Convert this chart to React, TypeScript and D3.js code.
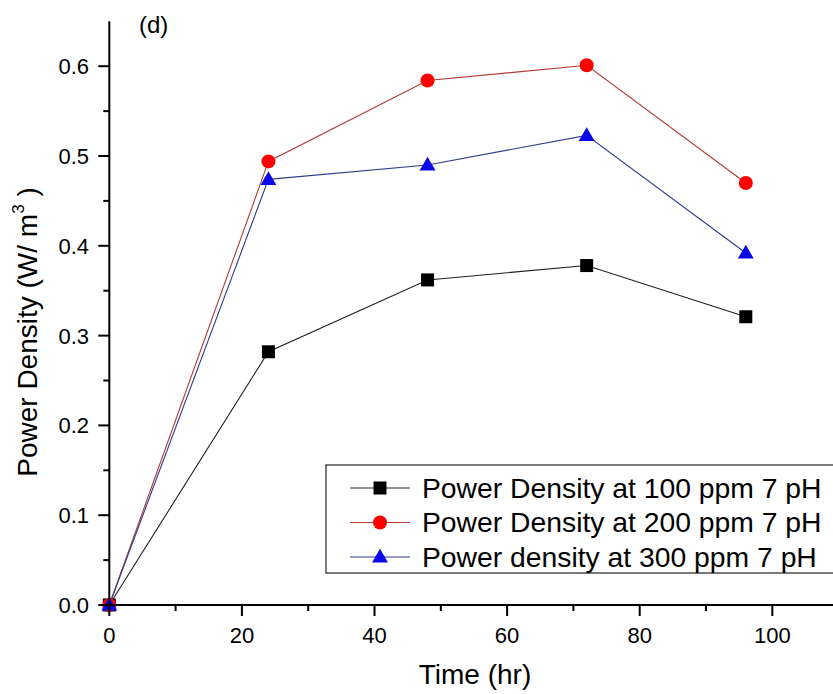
import React from "react";
import * as d3 from "d3";

const times = [0, 24, 48, 72, 96];
const series100 = [0, 0.282, 0.362, 0.378, 0.321];
const series200 = [0, 0.494, 0.584, 0.601, 0.47];
const series300 = [0, 0.474, 0.49, 0.523, 0.392];
const seriesNames = [
  "Power Density at 100 ppm 7 pH",
  "Power Density at 200 ppm 7 pH",
  "Power density at 300 ppm 7 pH",
];
const xMajorTicks = [0, 20, 40, 60, 80, 100];
const xMinorTicks = [10, 30, 50, 70, 90];
const yMajorTicks = [0, 0.1, 0.2, 0.3, 0.4, 0.5, 0.6];
const yMinorTicks = [0.05, 0.15, 0.25, 0.35, 0.45, 0.55];

const W = 833;
const H = 694;
const FONT = "'Liberation Sans', Arial, sans-serif";

export default function App() {
  const x = d3.scaleLinear().domain([0, 109]).range([109.3, 832]);
  const y = d3.scaleLinear().domain([0, 0.65]).range([605, 21.3]);

  const styles = [
    { line: "#202020", fill: "#000000", shape: "square" },
    { line: "#b23a36", fill: "#ff0000", shape: "circle" },
    { line: "#2e3a8c", fill: "#0a0ae6", shape: "triangle" },
  ];
  const allSeries = [series100, series200, series300];

  const line = d3
    .line<number>()
    .x((_, i) => x(times[i]))
    .y((d) => y(d));

  const marker = (shape: string, cx: number, cy: number, fill: string, key: string) => {
    if (shape === "square") {
      return <rect key={key} x={cx - 6.5} y={cy - 6.5} width={13} height={13} fill={fill} />;
    }
    if (shape === "circle") {
      return <circle key={key} cx={cx} cy={cy} r={7} fill={fill} />;
    }
    const sym = d3.symbol().type(d3.symbolTriangle).size(110)();
    return <path key={key} d={sym || ""} transform={`translate(${cx},${cy + 1})`} fill={fill} />;
  };

  const x0 = x(0);
  const y0 = y(0);

  return (
    <svg
      width={W}
      height={H}
      style={{ position: "absolute", left: 0, top: 0, background: "#fff" }}
      fontFamily={FONT}
    >
      <rect x={0} y={0} width={W} height={H} fill="#fff" />
      {/* series */}
      {allSeries.map((s, si) => (
        <path key={"l" + si} d={line(s) || ""} fill="none" stroke={styles[si].line} strokeWidth={1.1} />
      ))}
      {allSeries.map((s, si) =>
        s.map((v, i) => marker(styles[si].shape, x(times[i]), y(v), styles[si].fill, `m${si}-${i}`))
      )}

      {/* axes */}
      <line x1={x0} x2={W + 5} y1={y0} y2={y0} stroke="#000" strokeWidth={2} />
      <line x1={x0} x2={x0} y1={y(0.65)} y2={y0 + 1} stroke="#000" strokeWidth={2} />
      {xMajorTicks.map((t) => (
        <g key={"xt" + t}>
          <line x1={x(t)} x2={x(t)} y1={y0} y2={y0 + 11} stroke="#000" strokeWidth={2} />
          <text x={x(t)} y={643} textAnchor="middle" fontSize={22} fill="#000">
            {t}
          </text>
        </g>
      ))}
      {xMinorTicks.map((t) => (
        <line key={"xm" + t} x1={x(t)} x2={x(t)} y1={y0} y2={y0 + 6} stroke="#000" strokeWidth={2} />
      ))}
      {yMajorTicks.map((t) => (
        <g key={"yt" + t}>
          <line x1={x0 - 11} x2={x0} y1={y(t)} y2={y(t)} stroke="#000" strokeWidth={2} />
          <text x={89} y={y(t) + 8} textAnchor="end" fontSize={22} fill="#000">
            {t.toFixed(1)}
          </text>
        </g>
      ))}
      {yMinorTicks.map((t) => (
        <line key={"ym" + t} x1={x0 - 6} x2={x0} y1={y(t)} y2={y(t)} stroke="#000" strokeWidth={2} />
      ))}

      {/* axis titles */}
      <text x={475} y={684} textAnchor="middle" fontSize={28} fill="#000">
        Time (hr)
      </text>
      <text
        transform={`translate(37, 332) rotate(-90)`}
        textAnchor="middle"
        fontSize={28}
        fill="#000"
      >
        Power Density (W/ m
        <tspan fontSize={17} dy={-13}>3</tspan>
        <tspan dy={13}> )</tspan>
      </text>

      <text x={139} y={33} fontSize={24} fill="#000">
        (d)
      </text>

      {/* legend */}
      <rect x={326} y={465} width={W} height={108} fill="#fff" stroke="#222" strokeWidth={1.2} />
      {seriesNames.map((name, i) => {
        const cy = 488 + i * 34.5;
        return (
          <g key={"lg" + i}>
            <line x1={350} x2={410} y1={cy} y2={cy} stroke={styles[i].line} strokeWidth={1.1} />
            {marker(styles[i].shape, 380, cy, styles[i].fill, "lm" + i)}
            <text x={422} y={cy + 9.5} fontSize={28.3} fill="#000">
              {name}
            </text>
          </g>
        );
      })}
    </svg>
  );
}
